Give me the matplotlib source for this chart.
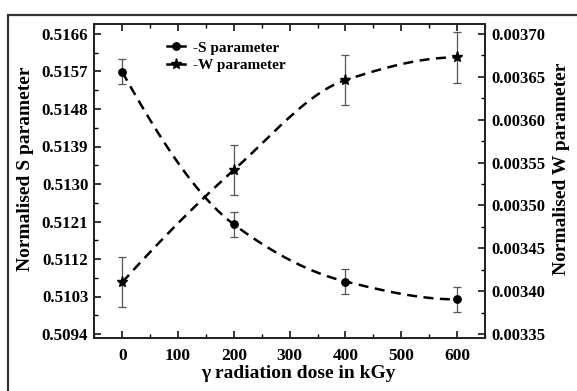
import numpy as np
import matplotlib
matplotlib.use("Agg")
import matplotlib.pyplot as plt
from matplotlib.lines import Line2D
from matplotlib.legend_handler import HandlerLine2D
from matplotlib.patches import Rectangle
from matplotlib.ticker import FixedLocator, AutoMinorLocator

dose = [0, 200, 400, 600]
s_param = [0.51569, 0.51203, 0.51066, 0.51023]
s_err = [0.00030, 0.00029, 0.00029, 0.00029]
w_param = [0.0034103, 0.0035413, 0.0036463, 0.0036728]
w_err = [0.0000294, 0.0000297, 0.0000297, 0.0000295]
s_ticks = [0.5094, 0.5103, 0.5112, 0.5121, 0.5130, 0.5139, 0.5148, 0.5157, 0.5166]
w_ticks = [0.00335, 0.00340, 0.00345, 0.00350, 0.00355, 0.00360, 0.00365, 0.00370]
x_ticks = [0, 100, 200, 300, 400, 500, 600]


def pchip(x, y, xs):
    """Shape-preserving cubic (Fritsch-Carlson) trend curve through the data."""
    x = np.asarray(x, float)
    y = np.asarray(y, float)
    h = np.diff(x)
    d = np.diff(y) / h
    n = len(x)
    m = np.zeros(n)
    for k in range(1, n - 1):
        if d[k - 1] * d[k] > 0:
            w1 = 2 * h[k] + h[k - 1]
            w2 = h[k] + 2 * h[k - 1]
            m[k] = (w1 + w2) / (w1 / d[k - 1] + w2 / d[k])

    def end(h0, h1, d0, d1):
        mm = ((2 * h0 + h1) * d0 - h0 * d1) / (h0 + h1)
        if np.sign(mm) != np.sign(d0):
            return 0.0
        if np.sign(d0) != np.sign(d1) and abs(mm) > abs(3 * d0):
            return 3 * d0
        return mm

    m[0] = end(h[0], h[1], d[0], d[1])
    m[-1] = end(h[-1], h[-2], d[-1], d[-2])
    xs = np.asarray(xs, float)
    idx = np.clip(np.searchsorted(x, xs) - 1, 0, n - 2)
    t = (xs - x[idx]) / h[idx]
    h00 = 2 * t**3 - 3 * t**2 + 1
    h10 = t**3 - 2 * t**2 + t
    h01 = -2 * t**3 + 3 * t**2
    h11 = t**3 - t**2
    return h00 * y[idx] + h10 * h[idx] * m[idx] + h01 * y[idx + 1] + h11 * h[idx] * m[idx + 1]


plt.rcParams['font.family'] = ['Liberation Serif', 'DejaVu Serif']
plt.rcParams['font.weight'] = 'bold'
plt.rcParams['axes.labelweight'] = 'bold'

fig = plt.figure(figsize=(5.77, 3.91), dpi=100)
fig.patches.append(Rectangle((8/577, -0.05), 1.1, 1 - 15/391 + 0.05, transform=fig.transFigure,
                             fill=False, edgecolor='#333333', linewidth=1.6, zorder=0))
ax = fig.add_axes([94.3/577, 1 - 338/391, (485 - 94.3)/577, (338 - 24)/391])
ax2 = ax.twinx()

xs = np.linspace(0, 600, 300)
dash_kw = dict(color='black', lw=1.8, dashes=(4, 2.6))

# S parameter
ax.plot(xs, pchip(dose, s_param, xs), **dash_kw)
ax.errorbar(dose, s_param, yerr=s_err, fmt='o', color='black', ms=5.3,
            ecolor='#555555', elinewidth=0.9, capsize=2.6, capthick=0.9, zorder=5)

# W parameter
ax2.plot(xs, pchip(dose, w_param, xs), **dash_kw)
ax2.errorbar(dose, w_param, yerr=w_err, fmt='*', color='black', ms=8,
             ecolor='#555555', elinewidth=0.9, capsize=2.6, capthick=0.9, zorder=5)

ax.set_xlim(-50, 650)
ax.set_ylim(0.509304, 0.51684)
ax2.set_ylim(0.0033453, 0.0037117)

ax.xaxis.set_major_locator(FixedLocator(x_ticks))
ax.xaxis.set_minor_locator(AutoMinorLocator(2))
ax.yaxis.set_major_locator(FixedLocator(s_ticks))
ax.yaxis.set_minor_locator(AutoMinorLocator(2))
ax.set_yticklabels([f"{v:.4f}" for v in s_ticks])
ax2.yaxis.set_major_locator(FixedLocator(w_ticks))
ax2.yaxis.set_minor_locator(AutoMinorLocator(2))
ax2.set_yticklabels([f"{v:.5f}" for v in w_ticks])

for a in (ax, ax2):
    for sp in a.spines.values():
        sp.set_linewidth(1.3)
        sp.set_color('#222222')
ax.tick_params(axis='x', which='both', direction='in', top=True, bottom=True, labelsize=12.5, pad=7)
ax.tick_params(axis='y', which='both', direction='in', left=True, right=False, labelsize=12.2, pad=4.3)
ax2.tick_params(axis='y', which='both', direction='in', right=True, labelsize=12, pad=4.8)
for a in (ax, ax2):
    a.tick_params(which='major', length=5, width=1.1)
    a.tick_params(which='minor', length=3, width=1.0)

ax.set_xlabel("γ radiation dose in kGy", fontsize=14, fontweight='bold')
ax.set_ylabel("Normalised S parameter", fontsize=14, fontweight='bold')
ax2.set_ylabel("Normalised W parameter", fontsize=14, fontweight='bold')
ax.xaxis.set_label_coords((298 - 94.3) / (485 - 94.3), -(374 - 338) / (338 - 24))
ax.yaxis.set_label_coords(-(94.3 - 26) / (485 - 94.3), (338 - 168.5) / (338 - 24))
ax2.yaxis.set_label_coords(1 + (561.7 - 485) / (485 - 94.3), (338 - 169) / (338 - 24))
ax.xaxis.label.set_va('center')
ax.yaxis.label.set_va('center')
ax2.yaxis.label.set_va('center')


class EndMarkerHandler(HandlerLine2D):
    def get_xdata(self, legend, xdescent, ydescent, width, height, fontsize):
        xdata = np.array([-xdescent, -xdescent + width])
        xmark = np.array([-xdescent + width])
        return xdata, xmark


h1 = Line2D([], [], color='black', lw=1.8, marker='o', ms=5.3)
h2 = Line2D([], [], color='black', lw=1.8, marker='*', ms=8)
leg = ax.legend([h1, h2], ['-S parameter', '-W parameter'],
                handler_map={Line2D: EndMarkerHandler()},
                loc='upper left', bbox_to_anchor=(0.15, 0.99), frameon=False,
                handlelength=1.2, handletextpad=0.5, labelspacing=0.25,
                prop={'family': 'Liberation Serif', 'weight': 'bold', 'size': 11})

fig.savefig("out.png", dpi=100)
